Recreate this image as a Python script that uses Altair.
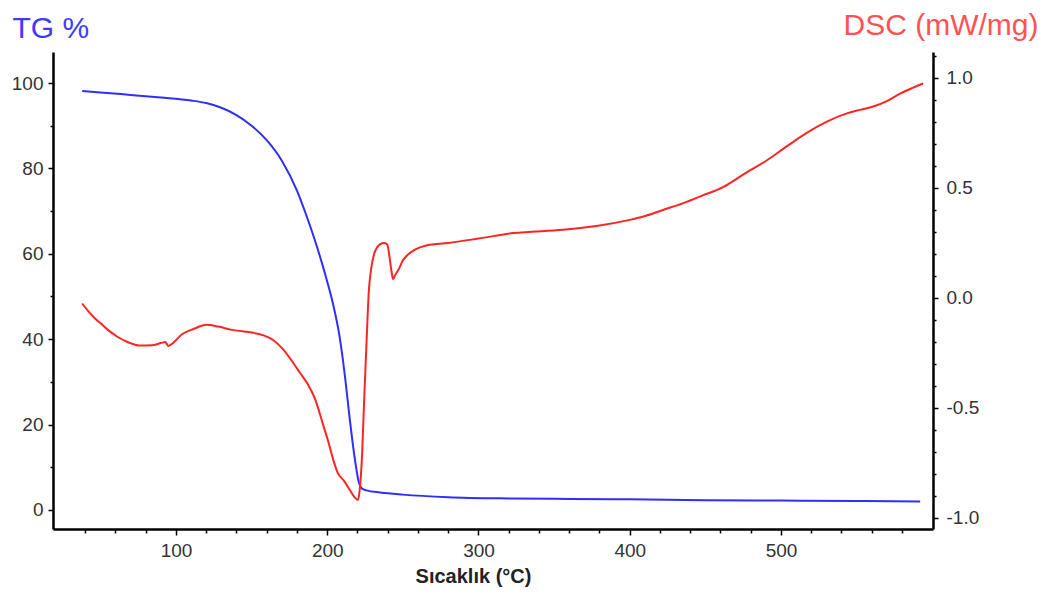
import altair as alt
import pandas as pd

# TG curve (temperature °C, mass %)
tg_temp = [38, 50, 70, 90, 110, 120, 130, 140, 150, 160, 170, 180, 186, 192, 198, 204,
           208, 212, 215, 219, 221, 223, 226, 235, 250, 280, 320, 360, 400, 450, 500, 550, 592]
tg_val = [98.1, 97.8, 97.2, 96.6, 95.9, 95.3, 94.2, 92.5, 90.0, 86.6, 81.8, 74.8, 69.2, 63.0,
          56.0, 48.0, 41.0, 30.5, 21.0, 10.2, 6.3, 5.0, 4.6, 4.1, 3.6, 3.0, 2.7, 2.6, 2.5, 2.3,
          2.2, 2.1, 2.0]

# DSC curve (temperature °C, mW/mg)
dsc_temp = [38, 42, 46, 50, 55, 61, 68, 76, 84, 90, 93, 95, 98, 104, 112, 120, 128, 137, 145, 151,
            158, 164, 171, 177, 182, 187, 192, 197, 201, 204, 207, 211, 215, 218, 220.3, 221.5,
            223, 224.5, 226, 227.5, 229, 231, 233, 235, 237.5, 239.5, 240.5, 241.5, 243, 243.5,
            245, 247, 250, 253, 258, 266, 280, 300, 323, 356, 378, 400, 409, 422, 435, 448, 462,
            476, 491, 504, 517, 530, 544, 552, 561, 570, 579, 587, 594]
dsc_val = [-0.025, -0.06, -0.09, -0.114, -0.145, -0.175, -0.2, -0.216, -0.215, -0.205, -0.2, -0.218,
           -0.205, -0.165, -0.14, -0.122, -0.13, -0.145, -0.152, -0.158, -0.17, -0.19, -0.235,
           -0.29, -0.34, -0.39, -0.46, -0.57, -0.66, -0.736, -0.796, -0.83, -0.873, -0.905,
           -0.918, -0.87, -0.72, -0.45, -0.2, 0.03, 0.13, 0.2, 0.23, 0.245, 0.25, 0.245, 0.22,
           0.17, 0.1, 0.085, 0.105, 0.127, 0.17, 0.195, 0.22, 0.24, 0.25, 0.27, 0.295, 0.31,
           0.327, 0.355, 0.37, 0.4, 0.43, 0.465, 0.505, 0.565, 0.627, 0.69, 0.75, 0.8, 0.84,
           0.855, 0.87, 0.895, 0.93, 0.955, 0.975]

x_ticks = [40, 60, 80, 100, 120, 140, 160, 180, 200, 220, 240, 260, 280, 300, 320, 340, 360,
           380, 400, 420, 440, 460, 480, 500, 520, 540, 560, 580]
tg_ticks = [0, 10, 20, 30, 40, 50, 60, 70, 80, 90, 100]
dsc_ticks = [-1.0, -0.9, -0.8, -0.7, -0.6, -0.5, -0.4, -0.3, -0.2, -0.1, 0.0, 0.1, 0.2, 0.3,
             0.4, 0.5, 0.6, 0.7, 0.8, 0.9, 1.0, 1.1]

tg_df = pd.DataFrame({"T": tg_temp, "TG": tg_val})
dsc_df = pd.DataFrame({"T": dsc_temp, "DSC": dsc_val})

FONT = "Liberation Sans"
axis_common = dict(
    grid=False, domainColor="black", domainWidth=2.5, tickColor="black", tickWidth=1.5,
    labelFont=FONT, labelFontSize=19, labelColor="#333333",
)

x_enc = alt.X(
    "T:Q",
    scale=alt.Scale(domain=[18.7, 600.5], nice=False, zero=False),
    axis=alt.Axis(
        values=x_ticks, labelExpr="datum.value % 100 === 0 ? datum.label : ''",
        tickSize={"condition": {"test": "datum.value % 100 === 0", "value": 6}, "value": 4},
        title="Sıcaklık (°C)", titleFont=FONT, titleFontSize=20, titleFontWeight="bold",
        titleColor="#222222", titleX=420, titleY=53, titleAlign="center",
        titleBaseline="alphabetic", labelPadding=6, **axis_common,
    ),
)

tg_line = alt.Chart(tg_df).mark_line(color="#2e2eff", strokeWidth=2, interpolate="monotone").encode(
    x=x_enc,
    y=alt.Y(
        "TG:Q",
        scale=alt.Scale(domain=[-4.45, 107.26], nice=False, zero=False),
        axis=alt.Axis(
            orient="left", values=tg_ticks,
            labelExpr="datum.value % 20 === 0 ? datum.label : ''",
            tickSize={"condition": {"test": "datum.value % 20 === 0", "value": 5}, "value": 3},
            title="TG %", titleFont=FONT, titleFontSize=30, titleFontWeight="normal",
            titleColor="#3b3bff", titleAngle=0, titleAlign="left", titleBaseline="alphabetic",
            titleX=-41, titleY=-15, labelPadding=5, **axis_common,
        ),
    ),
)

dsc_line = alt.Chart(dsc_df).mark_line(color="#ff2424", strokeWidth=2, interpolate="monotone").encode(
    x=x_enc,
    y=alt.Y(
        "DSC:Q",
        scale=alt.Scale(domain=[-1.05, 1.118], nice=False, zero=False),
        axis=alt.Axis(
            orient="right", values=dsc_ticks,
            labelExpr="abs(datum.value*2 - round(datum.value*2)) < 0.001 ? replace(format(datum.value, '.1f'), '\u2212', '-') : ''",
            tickSize={"condition": {"test": "abs(datum.value*2 - round(datum.value*2)) < 0.001", "value": 5}, "value": 3},
            title="DSC (mW/mg)", titleFont=FONT, titleFontSize=30, titleFontWeight="normal",
            titleColor="#ff5252", titleAngle=0, titleAlign="right", titleBaseline="alphabetic",
            titleX=105, titleY=-18, labelPadding=8, **axis_common,
        ),
    ),
)

chart = alt.layer(tg_line, dsc_line).resolve_scale(y="independent").properties(
    width=880, height=477,
    padding={"left": 53, "top": 52, "right": 110, "bottom": 65},
    autosize=alt.AutoSizeParams(type="none"),
    background="white",
).configure_view(stroke=None)

chart.save("out.html", embed_options={"renderer": "svg", "actions": False})
